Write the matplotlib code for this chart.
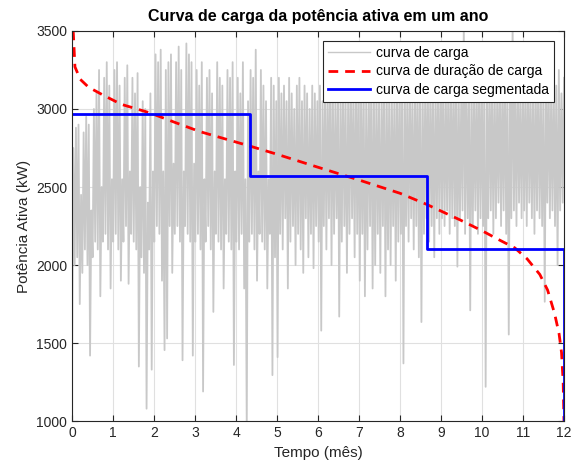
import numpy as np
import matplotlib
matplotlib.use("Agg")
import matplotlib.pyplot as plt

plt.rcParams['font.family'] = ['Liberation Sans', 'DejaVu Sans']

# curva de carga (kW), picos e vales lidos por mes
m01 = [1380, 2750, 2000, 2880, 2050, 2900, 1750, 2450, 1950, 2850, 2100, 2950, 2000, 2900, 1420, 2350,
       2050, 3000, 2150, 3100, 2100, 3250, 1800, 2500, 2150, 3200, 2200, 3300, 2100, 3150, 1850, 2550]
m02 = [2150, 3250, 2200, 3300, 2100, 3150, 1900, 2550, 2150, 3200, 2250, 3280, 1880, 2600, 2200, 3200,
       2150, 3100, 2100, 3230, 1350, 2500, 2050, 3050, 1950, 3000, 1080, 2400, 2100, 3100, 1330, 2600]
m03 = [2150, 3350, 2250, 3300, 2200, 3380, 1900, 2600, 1455, 3250, 1530, 3300, 2250, 3350, 1950, 2650,
       2200, 3300, 2250, 3400, 2150, 3250, 1390, 2600, 2250, 3420, 2200, 3350, 2150, 3300, 1420, 2650]
m04 = [2150, 3250, 2200, 3150, 2100, 3300, 1190, 2550, 2150, 3200, 2250, 3250, 2100, 3100, 1700, 2600,
       2200, 3300, 2150, 3200, 2100, 3150, 1850, 2550, 2200, 3250, 2150, 3200, 2100, 3300, 1360, 2600]
m05 = [2150, 3200, 2100, 3100, 2200, 3300, 1850, 2550, 950, 3050, 2150, 3250, 2200, 3200, 2100, 3380,
       1900, 2600, 2200, 3250, 2150, 3150, 2100, 3050, 1850, 2550, 2200, 3200, 1295, 3150, 2050, 3050]
m06 = [1410, 3200, 2200, 3100, 2100, 3150, 2300, 3050, 1850, 3200, 2150, 3100, 2250, 3000, 2000, 3150,
       2200, 3200, 2100, 3050, 1950, 3150, 2300, 3100, 2050, 3000, 2200, 3150, 1980, 3100, 2250, 3050]
m07 = [2150, 3150, 1580, 3050, 2250, 3200, 2100, 3100, 2300, 3250, 2000, 3150, 2200, 3050, 2300, 3200,
       1670, 3100, 2150, 3250, 2250, 3050, 1950, 3150, 2200, 3200, 2300, 3100, 2050, 3250, 2200, 3150]
m08 = [1900, 3100, 2200, 3200, 1800, 3050, 2100, 3150, 2250, 3250, 1850, 3100, 2000, 3200, 2200, 3050,
       1950, 3150, 2250, 3250, 1800, 3100, 2100, 3200, 2000, 3050, 2250, 3150, 1900, 3250, 2150, 3100]
m09 = [2200, 3150, 1370, 3200, 2250, 3100, 2150, 3250, 2300, 3050, 2100, 3200, 2250, 3150, 2050, 3250,
       1635, 3100, 2200, 3200, 2300, 3150, 2150, 3250, 2250, 3100, 2050, 3200, 2300, 3150, 2200, 3250]
m10 = [2300, 3200, 2250, 3100, 2350, 3250, 2200, 3150, 2300, 3200, 2250, 3250, 1990, 3150, 2300, 3100,
       2350, 3550, 2200, 3200, 2300, 3150, 1710, 3250, 2250, 3100, 2350, 3200, 2200, 3250, 2300, 3150]
m11 = [2250, 3200, 1220, 3100, 2300, 3250, 2350, 3150, 2200, 3200, 2300, 3100, 2400, 3250, 2250, 3150,
       2350, 3300, 2200, 3150, 1555, 3200, 2300, 3550, 2350, 3150, 2250, 3250, 2400, 3100, 2300, 3200]
m12 = [2350, 3150, 2250, 3250, 2400, 3100, 2300, 3200, 2200, 3150, 2350, 3250, 2300, 3100, 2250, 3200,
       1765, 3150, 2400, 3250, 2300, 3100, 2350, 3200, 2250, 3150, 2000, 3250, 2350, 3100, 2400, 3200]
carga = m01 + m02 + m03 + m04 + m05 + m06 + m07 + m08 + m09 + m10 + m11 + m12

# curva de duracao de carga
dur_mes = [0, 0.03, 0.07, 0.2, 0.4, 0.75, 1.2, 1.9, 2.5, 3.12, 4.33, 5.0, 5.96, 7.0, 8.0, 8.64,
           9.46, 10.0, 10.43, 10.8, 11.1, 11.41, 11.6, 11.77, 11.88, 11.94, 11.98, 12.0]
dur_kw = [3500, 3490, 3270, 3190, 3140, 3090, 3030, 2975, 2915, 2855, 2763, 2710, 2630, 2545, 2460, 2390,
          2290, 2220, 2160, 2110, 2040, 1940, 1840, 1690, 1560, 1440, 1250, 1000]

# curva segmentada
seg_mes = [0, 4.33, 8.67, 12, 12]
seg_kw = [2970, 2570, 2100, 2100, 1000]

fig = plt.figure(figsize=(5.72, 4.69), dpi=100)
ax = fig.add_axes([0.126, 0.102, 0.86, 0.832])

t = np.linspace(0, 12, len(carga))
ax.plot(t, carga, color='#c8c8c8', lw=1.3, label='curva de carga')
ax.plot(dur_mes, dur_kw, 'r--', lw=2, dashes=(3.5, 2.5), label='curva de duração de carga')
ax.plot(seg_mes, seg_kw, 'b-', lw=2, drawstyle='steps-post', label='curva de carga segmentada')

ax.set_xlim(0, 12)
ax.set_ylim(1000, 3500)
ax.set_xticks(range(0, 13))
ax.set_yticks(range(1000, 3501, 500))
ax.grid(True, color='#e0e0e0', lw=0.8)
ax.set_axisbelow(True)
ax.tick_params(direction='in', top=True, right=True, labelsize=10, colors='#262626', length=4)
for s in ax.spines.values():
    s.set_color('#262626')
    s.set_linewidth(0.8)

ax.set_title('Curva de carga da potência ativa em um ano', fontsize=11.5, fontweight='bold', pad=7)
ax.set_xlabel('Tempo (mês)', fontsize=11, color='#262626')
ax.set_ylabel('Potência Ativa (kW)', fontsize=11, color='#262626')

leg = ax.legend(loc='upper right', fontsize=10, handlelength=3.0, fancybox=False, framealpha=1,
                edgecolor='#262626', borderaxespad=0.7, labelspacing=0.3, borderpad=0.4,
                handletextpad=0.4)
leg.get_frame().set_linewidth(0.8)
leg.get_lines()[0].set_linewidth(1.0)

plt.savefig('out.png', dpi=100)
